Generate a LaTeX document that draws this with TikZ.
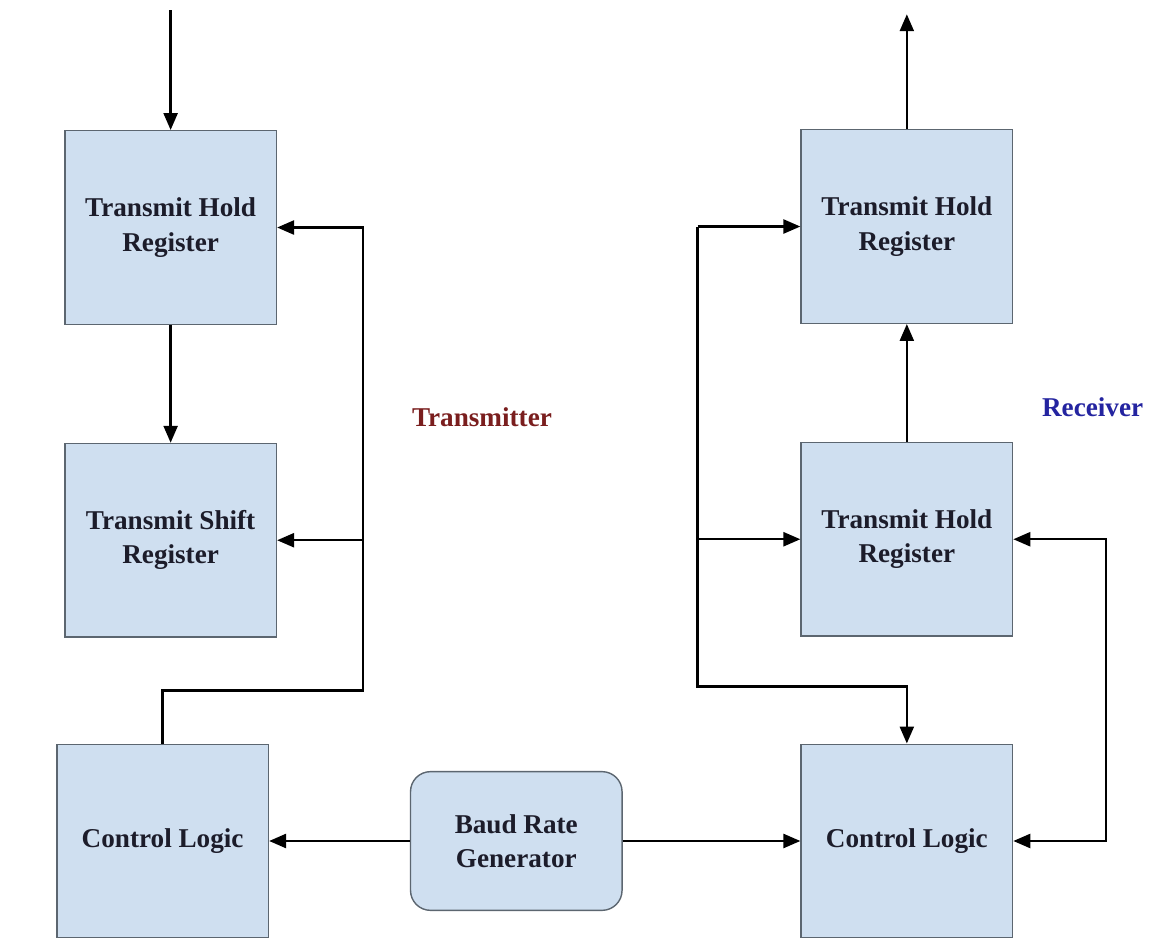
\documentclass[tikz,border=0pt]{standalone}
\usepackage{fontspec}
\setmainfont{Liberation Serif}
\usepackage{tikz}
\usetikzlibrary{
    arrows.meta,
    positioning
}

\definecolor{boxfill}{HTML}{CFDFF0}
\definecolor{boxline}{HTML}{5C6670}
\definecolor{boxtext}{HTML}{1C1C2A}
\definecolor{txred}{HTML}{7A1E1E}
\definecolor{rxblue}{HTML}{2424A0}

\begin{document}
\begin{tikzpicture}[
        node distance=2.36cm and 2.82cm,
        block/.style={rectangle, draw=boxline, line width=0.8pt, fill=boxfill,
                      minimum width=4.24cm, minimum height=3.88cm, align=center,
                      text=boxtext, font=\fontsize{15.5}{19.5}\selectfont\bfseries},
        gen/.style={block, rounded corners=0.4cm, minimum height=2.78cm},
        side/.style={font=\fontsize{15.5}{19.5}\selectfont\bfseries},
        arrow/.style={-{Triangle[length=0.34cm, width=0.28cm]}, line width=1.4pt, draw=black},
        twoway/.style={{Triangle[length=0.34cm, width=0.28cm]}-{Triangle[length=0.34cm, width=0.28cm]},
                       line width=1.4pt, draw=black},
    ]

    % Frame
    \path[fill=white] (0,0) rectangle (22.98,-18.78);

    % Nodes - transmitter column (top to bottom)
    \node[block] (thr) at (3.42,-4.56) {Transmit Hold\\Register};
    \node[block, below=of thr] (tsr) {Transmit Shift\\Register};
    \node[block, below=2.12cm of tsr, xshift=-0.16cm] (txcl) {Control Logic};

    % Baud rate generator and receiver column (bottom to top)
    \node[gen, right=of txcl] (brg) {Baud Rate\\Generator};
    \node[block, right=3.56cm of brg] (rxcl) {Control Logic};
    \node[block, above=2.14cm of rxcl] (rsr) {Transmit Hold\\Register};
    \node[block, above=of rsr] (rhr) {Transmit Hold\\Register};

    % Side labels
    \node[side, text=txred] (txlbl) at (9.66,-8.36) {Transmitter};
    \node[side, text=rxblue] (rxlbl) at (21.9,-8.16) {Receiver};

    % Free ends
    \coordinate[above=2.4cm of thr] (din);
    \coordinate[above=2.3cm of rhr] (dout);

    % Arrows
    \draw[arrow] (din) -- (thr);
    \draw[arrow] (thr) -- (tsr);
    \draw[arrow] (rsr) -- (rhr);
    \draw[arrow] (rhr) -- (dout);
    \draw[arrow] (brg) -- (txcl);
    \draw[arrow] (brg) -- (rxcl);

    % Transmitter control lines
    \draw[arrow] (txcl.north) -- ++(0,1.06) -| ([xshift=1.72cm]thr.east) -- (thr.east);
    \draw[arrow] ([xshift=1.72cm]tsr.east) -- (tsr.east);

    % Receiver control lines
    \draw[arrow] ([xshift=-2.06cm]rhr.west) -- (rhr.west);
    \draw[arrow] ([xshift=-2.06cm]rhr.west) |- ([yshift=1.14cm]rxcl.north) -- (rxcl.north);
    \draw[arrow] ([xshift=-2.06cm]rsr.west) -- (rsr.west);
    \draw[twoway] (rsr.east) -- ++(1.86,0) |- (rxcl.east);

    \end{tikzpicture}
\end{document}
